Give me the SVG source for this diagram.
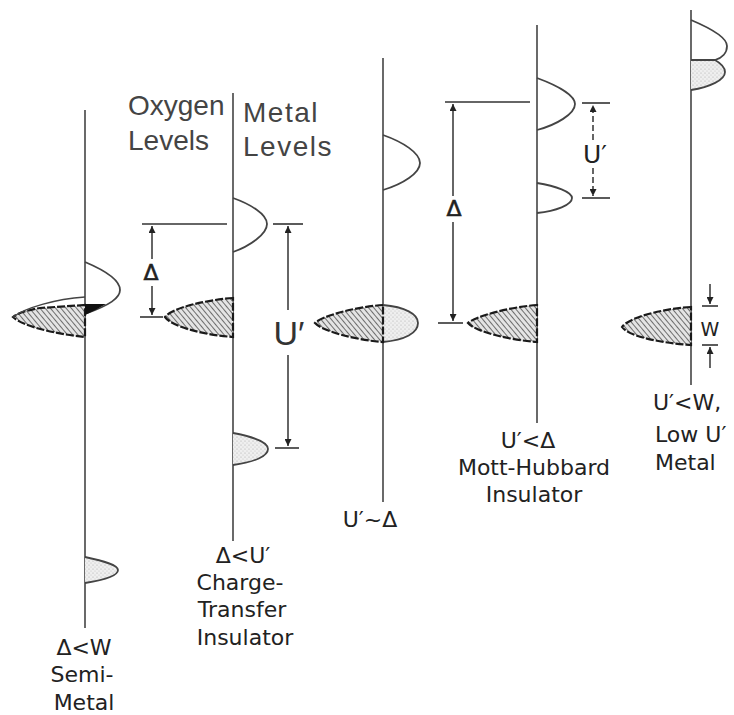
<svg xmlns="http://www.w3.org/2000/svg" width="734" height="715" viewBox="0 0 734 715">
<defs>
<pattern id="hatch" patternUnits="userSpaceOnUse" width="4" height="4" patternTransform="rotate(-40)">
<rect width="4" height="4" fill="#e4e4e4"/>
<line x1="0" y1="0" x2="0" y2="4" stroke="#3a3a3a" stroke-width="1.4"/>
</pattern>
<pattern id="dots" patternUnits="userSpaceOnUse" width="4" height="4">
<rect width="4" height="4" fill="#efefef"/>
<circle cx="1" cy="1" r="0.6" fill="#aaa"/>
<circle cx="3" cy="3" r="0.5" fill="#bbb"/>
</pattern>
<marker id="ah" viewBox="0 0 10 10" refX="10" refY="5" markerWidth="9" markerHeight="7" markerUnits="userSpaceOnUse" orient="auto">
<path d="M0,0 L10,5 L0,10 Z" fill="#222"/>
</marker>
</defs>
<style>
.ax{stroke:#444;stroke-width:1.6;fill:none}
.band{stroke:#444;stroke-width:1.8;fill:none}
.dot{stroke:#444;stroke-width:1.8;fill:url(#dots)}
.ox{stroke:#1a1a1a;stroke-width:2.2;fill:url(#hatch);stroke-dasharray:8 2}
.hl{stroke:#333;stroke-width:1.6}
.arr{stroke:#333;stroke-width:1.5;fill:none;marker-end:url(#ah)}
.lbl{font-family:"DejaVu Sans",sans-serif;font-size:22px;fill:#222;text-anchor:middle}
.top{font-family:"Liberation Sans",Arial,sans-serif;font-size:28px;fill:#444}
.sym{font-family:"DejaVu Sans",sans-serif;font-size:22px;fill:#222;text-anchor:middle;stroke:#222;stroke-width:0.6}
.big{font-family:"Liberation Sans",Arial,sans-serif;font-size:34px;fill:#333;text-anchor:middle}
</style>
<rect width="734" height="715" fill="#ffffff"/>

<g id="panel-semimetal">
<line class="ax" x1="85" y1="110" x2="85" y2="628"/>
<path class="band" d="M85,262 C104,270 120,280 120,290 C120,298 110,305 85,314"/>
<path class="ox" d="M85,305 L40,308 C28,310 18,313 13,317 C22,326 55,334 85,337 Z"/>
<path d="M85,297 C55,299 25,308 13,317" stroke="#444" stroke-width="1.4" fill="none"/>
<path d="M85,304 L106,304 Q96,310 85,315 Z" fill="#111"/>
<path class="dot" d="M85,557 C104,561 118,565 118,570 C118,576 104,580 85,583"/>
<text class="lbl" x="84" y="655">Δ&lt;W</text>
<text class="lbl" x="82" y="682">Semi-</text>
<text class="lbl" x="84" y="710">Metal</text>
</g>

<g id="panel-charge-transfer">
<line class="ax" x1="233" y1="93" x2="233" y2="541"/>
<text class="top" x="128" y="115">Oxygen</text>
<text class="top" x="128" y="150">Levels</text>
<text class="top" x="243" y="122" letter-spacing="1.5">Metal</text>
<text class="top" x="243" y="156" letter-spacing="1.5">Levels</text>
<path class="band" d="M233,198 C250,204 267,214 267,224 C267,234 250,246 233,252"/>
<path class="ox" d="M233,298 C205,300 172,308 165,317 C172,327 205,335 233,337 Z"/>
<path class="dot" d="M233,433 C255,437 268,443 268,449 C268,456 255,462 233,465"/>
<line class="hl" x1="142" y1="224" x2="227" y2="224"/>
<line class="hl" x1="273" y1="224" x2="303" y2="224"/>
<line class="hl" x1="140" y1="317" x2="163" y2="317"/>
<line class="hl" x1="275" y1="448" x2="299" y2="448"/>
<text class="sym" x="151" y="280">Δ</text>
<text class="big" x="289" y="345">U′</text>
<text class="lbl" x="243" y="563">Δ&lt;U′</text>
<text class="lbl" x="240" y="590">Charge-</text>
<text class="lbl" x="242" y="617">Transfer</text>
<text class="lbl" x="245" y="645">Insulator</text>
</g>

<g id="panel-intermediate">
<line class="ax" x1="383" y1="58" x2="383" y2="502"/>
<path class="band" d="M383,135 C403,142 420,153 420,163 C420,173 403,184 383,190"/>
<path class="dot" d="M383,305 C405,307 418,314 418,323 C418,333 405,340 383,342"/>
<path class="ox" d="M383,305 C355,307 322,316 315,323 C322,331 355,340 383,342 Z"/>
<text class="lbl" x="370" y="527">U′~Δ</text>
</g>

<g id="panel-mott-hubbard">
<line class="ax" x1="537" y1="25" x2="537" y2="423"/>
<path class="band" d="M537,78 C556,85 575,95 575,104 C575,114 556,125 537,130"/>
<path class="band" d="M537,183 C556,186 572,192 572,198 C572,205 556,211 537,213"/>
<path class="ox" d="M537,305 C510,307 476,316 468,323 C476,332 510,340 537,342 Z"/>
<line class="hl" x1="445" y1="102" x2="530" y2="102"/>
<line class="hl" x1="582" y1="103" x2="610" y2="103"/>
<line class="hl" x1="582" y1="198" x2="610" y2="198"/>
<line class="hl" x1="438" y1="323" x2="463" y2="323"/>
<text class="sym" x="454" y="216">Δ</text>
<text class="lbl" x="595" y="163" font-size="25" style="font-size:25px">U′</text>
<text class="lbl" x="528" y="448">U′&lt;Δ</text>
<text class="lbl" x="534" y="475">Mott-Hubbard</text>
<text class="lbl" x="534" y="502">Insulator</text>
</g>

<g id="panel-metal">
<line class="ax" x1="691" y1="10" x2="691" y2="385"/>
<path class="band" d="M691,20 C710,28 727,38 727,46 C727,53 722,58 715,60"/>
<path class="dot" d="M691,60 L715,60 C722,64 725,68 725,72 C725,80 710,87 691,90"/>
<path class="ox" d="M691,307 C660,309 628,318 622,327 C628,336 660,343 691,345 Z"/>
<line class="hl" x1="702" y1="306" x2="718" y2="306"/>
<line class="hl" x1="702" y1="345" x2="718" y2="345"/>
<text class="lbl" x="710" y="336" style="font-size:19px">W</text>
<text class="lbl" x="653" y="410" style="text-anchor:start">U′&lt;W,</text>
<text class="lbl" x="655" y="442" style="text-anchor:start">Low U′</text>
<text class="lbl" x="655" y="470" style="text-anchor:start">Metal</text>
</g>

<g id="connectors">
<line class="arr" x1="152" y1="259" x2="152" y2="226"/>
<line class="arr" x1="152" y1="286" x2="152" y2="315"/>
<line class="arr" x1="288" y1="310" x2="288" y2="226"/>
<line class="arr" x1="288" y1="355" x2="288" y2="446"/>
<line class="arr" x1="453" y1="196" x2="453" y2="104"/>
<line class="arr" x1="453" y1="222" x2="453" y2="321"/>
<line class="arr" x1="593" y1="140" x2="593" y2="105" stroke-dasharray="6 3"/>
<line class="arr" x1="593" y1="168" x2="593" y2="196" stroke-dasharray="6 3"/>
<line class="arr" x1="710" y1="284" x2="710" y2="304"/>
<line class="arr" x1="710" y1="368" x2="710" y2="347"/>
</g>
</svg>
